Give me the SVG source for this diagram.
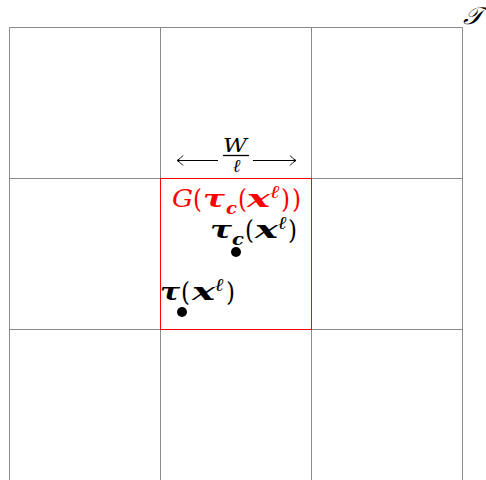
<svg xmlns="http://www.w3.org/2000/svg" width="486" height="480" viewBox="0 0 486 480">
<style>
.grid{stroke:#8a8a8a;stroke-width:1;fill:none}
text{font-family:"DejaVu Serif","Liberation Serif",serif}
.i{font-style:italic}
.bi{font-style:italic;font-weight:bold}
.p{font-style:normal;font-size:26px}
.arr{stroke:#000;stroke-width:1;fill:none}
.red text{fill:#ff0000}
</style>
<rect width="486" height="480" fill="#fff"/>
<g id="grid">
<path class="grid" d="M9.5 27.5H462.5M9.5 178.5H462.5M9.5 329.5H462.5M9.5 27.5V480M160.5 27.5V480M311.5 27.5V480M462.5 27.5V480"/>
</g>
<g id="cell" class="red">
<rect x="160.5" y="178.5" width="151" height="151" fill="none" stroke="#ff0000" stroke-width="1"/>
<text class="i" x="172" y="207" font-size="24" textLength="21" lengthAdjust="spacingAndGlyphs">G</text>
<text class="p" x="193" y="208" textLength="9" lengthAdjust="spacingAndGlyphs">(</text>
<text class="bi" x="203" y="207" font-size="24" textLength="22" lengthAdjust="spacingAndGlyphs">τ</text>
<text class="bi" x="226" y="214" font-size="16" textLength="11" lengthAdjust="spacingAndGlyphs">c</text>
<text class="p" x="238" y="208" textLength="9" lengthAdjust="spacingAndGlyphs">(</text>
<text class="bi" x="247" y="207" font-size="24" textLength="23" lengthAdjust="spacingAndGlyphs">x</text>
<text class="bi" x="270" y="198" font-size="18" textLength="10" lengthAdjust="spacingAndGlyphs">ℓ</text>
<text class="p" x="281" y="208" textLength="9" lengthAdjust="spacingAndGlyphs">)</text>
<text class="p" x="292" y="208" textLength="9" lengthAdjust="spacingAndGlyphs">)</text>
</g>
<g id="width">
<g class="arr">
<path d="M177 160.5H218M183 155.5Q180 159 177 160.5Q180 162 183 165.5"/>
<path d="M253 160.5H296M290 155.5Q293 159 296 160.5Q293 162 290 165.5"/>
<path d="M223 155.5H249" stroke-width="1.3"/>
</g>
<text class="i" x="223" y="152" font-size="18" textLength="24" lengthAdjust="spacingAndGlyphs">W</text>
<text class="i" x="236.5" y="172" font-size="18" text-anchor="middle">ℓ</text>
</g>
<g id="tauc">
<circle cx="236" cy="252" r="5" fill="#000"/>
<text class="bi" x="210" y="238" font-size="24" textLength="22" lengthAdjust="spacingAndGlyphs">τ</text>
<text class="bi" x="232" y="245" font-size="16" textLength="12" lengthAdjust="spacingAndGlyphs">c</text>
<text class="p" x="245" y="239" textLength="9" lengthAdjust="spacingAndGlyphs">(</text>
<text class="bi" x="255" y="238" font-size="24" textLength="23" lengthAdjust="spacingAndGlyphs">x</text>
<text class="bi" x="278" y="229" font-size="18" textLength="9" lengthAdjust="spacingAndGlyphs">ℓ</text>
<text class="p" x="288" y="239" textLength="9" lengthAdjust="spacingAndGlyphs">)</text>
</g>
<g id="tau">
<circle cx="182" cy="312" r="5" fill="#000"/>
<text class="bi" x="160" y="300" font-size="24" textLength="20" lengthAdjust="spacingAndGlyphs">τ</text>
<text class="p" x="181" y="301" textLength="9" lengthAdjust="spacingAndGlyphs">(</text>
<text class="bi" x="192" y="300" font-size="24" textLength="23" lengthAdjust="spacingAndGlyphs">x</text>
<text class="bi" x="215" y="291" font-size="18" textLength="9" lengthAdjust="spacingAndGlyphs">ℓ</text>
<text class="p" x="226" y="301" textLength="9" lengthAdjust="spacingAndGlyphs">)</text>
</g>
<g id="T">
<text x="463" y="24" font-style="italic" font-size="24" textLength="20" lengthAdjust="spacingAndGlyphs">𝒯</text>
</g>
</svg>
